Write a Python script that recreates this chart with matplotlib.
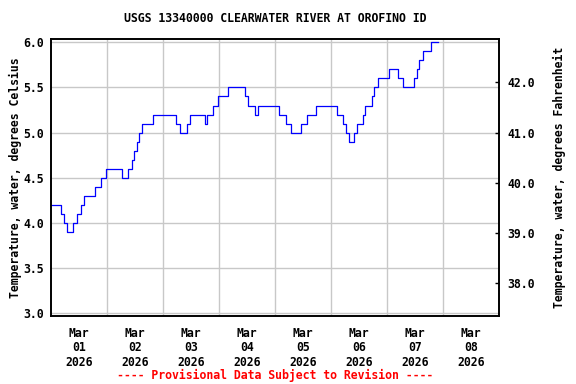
import matplotlib
matplotlib.use("Agg")
import matplotlib.pyplot as plt
import matplotlib.dates as mdates
from matplotlib.ticker import FixedLocator, FuncFormatter, NullFormatter
from datetime import datetime, timedelta

# ---- data: step change points (hours after 2026-03-01 00:00) and values (deg C)
change_hours = [0, 4.25, 5.75, 7.0, 9.25, 11.25, 12.75, 14.25, 18.75, 21.25,
                23.75, 30.5, 33.0, 34.5, 35.75, 36.75, 37.75, 39.0, 43.75, 53.5,
                55.25, 58.25, 59.5, 66.0, 67.0, 69.25, 71.75, 76.0, 83.25, 84.5,
                87.5, 88.5, 97.5, 100.75, 102.75, 107.0, 109.75, 113.5, 122.75, 125.0,
                126.5, 127.75, 130.0, 131.25, 133.5, 134.5, 137.5, 138.5, 140.25, 144.75,
                148.75, 151.0, 155.75, 156.75, 157.75, 159.5, 162.75, 165.75]
temps_c = [4.2, 4.1, 4.0, 3.9, 4.0, 4.1, 4.2, 4.3, 4.4, 4.5,
           4.6, 4.5, 4.6, 4.7, 4.8, 4.9, 5.0, 5.1, 5.2, 5.1,
           5.0, 5.1, 5.2, 5.1, 5.2, 5.3, 5.4, 5.5, 5.4, 5.3,
           5.2, 5.3, 5.2, 5.1, 5.0, 5.1, 5.2, 5.3, 5.2, 5.1,
           5.0, 4.9, 5.0, 5.1, 5.2, 5.3, 5.4, 5.5, 5.6, 5.7,
           5.6, 5.5, 5.6, 5.7, 5.8, 5.9, 6.0, 6.0]

day_labels = ["Mar\n01\n2026", "Mar\n02\n2026", "Mar\n03\n2026", "Mar\n04\n2026",
              "Mar\n05\n2026", "Mar\n06\n2026", "Mar\n07\n2026", "Mar\n08\n2026"]
c_ticks = [3.0, 3.5, 4.0, 4.5, 5.0, 5.5, 6.0]
f_ticks = [38.0, 39.0, 40.0, 41.0, 42.0]

title = "USGS 13340000 CLEARWATER RIVER AT OROFINO ID"
ylabel_left = "Temperature, water, degrees Celsius"
ylabel_right = "Temperature, water, degrees Fahrenheit"
footer = "---- Provisional Data Subject to Revision ----"

start = datetime(2026, 3, 1)
times = [start + timedelta(hours=h) for h in change_hours]

plt.rcParams['font.family'] = ['DejaVu Sans Mono']
FS = 8.3

fig = plt.figure(figsize=(5.76, 3.84), dpi=100)
ax = fig.add_axes([51/576, 1 - 315.7/384, (499 - 51)/576, (315.7 - 39.3)/384])

ax.plot(times, temps_c, drawstyle='steps-post', color='#0000ff', lw=0.9)

ax.set_xlim(start, start + timedelta(days=8))
ylo, yhi = 2.973, 6.033
ax.set_ylim(ylo, yhi)

# x: gridlines at midnight, labels at noon
mid = [mdates.date2num(start + timedelta(days=d)) for d in range(1, 8)]
noon = [mdates.date2num(start + timedelta(days=d, hours=12)) for d in range(8)]
ax.xaxis.set_major_locator(FixedLocator(mid))
ax.xaxis.set_major_formatter(NullFormatter())
ax.xaxis.set_minor_locator(FixedLocator(noon))
ax.xaxis.set_minor_formatter(FuncFormatter(lambda v, p: day_labels[p] if p is not None and p < len(day_labels) else ""))
ax.tick_params(axis='x', which='major', length=0)
ax.tick_params(axis='x', which='minor', length=0, pad=8, labelsize=FS)
for lbl in ax.get_xticklabels(minor=True):
    lbl.set_fontweight('bold')
    lbl.set_linespacing(1.15)

ax.set_yticks(c_ticks)
ax.yaxis.set_major_formatter(FuncFormatter(lambda v, p: f"{v:.1f}"))
ax.tick_params(axis='y', length=0, pad=5, labelsize=FS)
for lbl in ax.get_yticklabels():
    lbl.set_fontweight('bold')

ax.grid(True, which='major', color='#c8c8c8', lw=1.0)
ax.set_axisbelow(True)
for s in ax.spines.values():
    s.set_linewidth(1.2)
    s.set_color('black')

ax.set_ylabel(ylabel_left, fontsize=FS, fontweight='bold', labelpad=1)

ax2 = ax.twinx()
ax2.set_ylim(ylo * 9 / 5 + 32, yhi * 9 / 5 + 32)
ax2.set_yticks(f_ticks)
ax2.yaxis.set_major_formatter(FuncFormatter(lambda v, p: f"{v:.1f}"))
ax2.tick_params(axis='y', direction='in', length=3, width=1, pad=6, labelsize=FS)
for lbl in ax2.get_yticklabels():
    lbl.set_fontweight('bold')
ax2.set_ylabel(ylabel_right, fontsize=FS, fontweight='bold', labelpad=13)
for s in ax2.spines.values():
    s.set_linewidth(1.2)

fig.text(275/576, 1 - 19/384, title, ha='center', va='center', fontsize=FS, fontweight='bold')
fig.text(275/576, 1 - 375/384, footer, ha='center', va='center', fontsize=FS,
         fontweight='bold', color='#ff0000')

fig.savefig("out.png", dpi=100)
